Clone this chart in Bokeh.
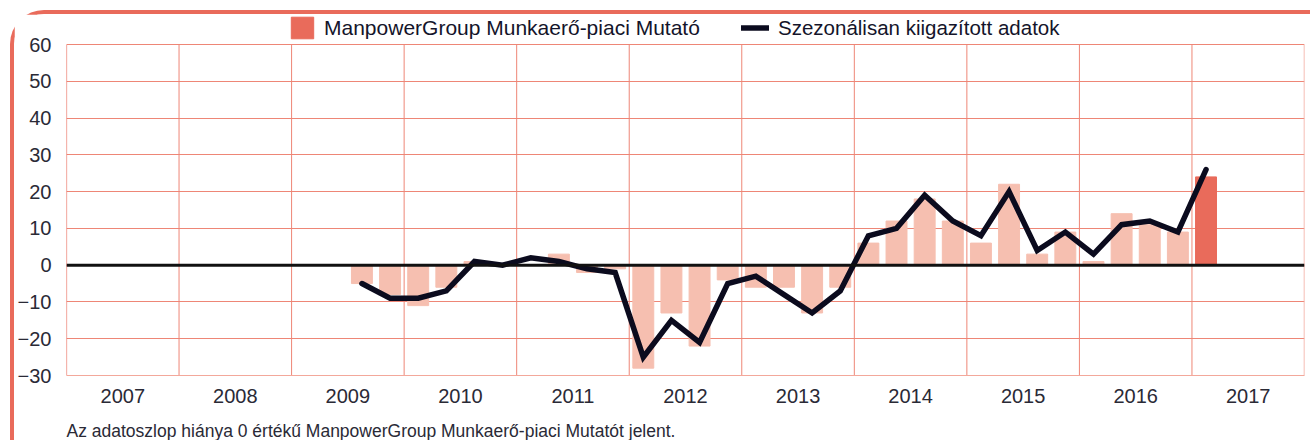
from bokeh.plotting import figure
from bokeh.models import (Range1d, FixedTicker, Span, Legend, LegendItem, Title,
                          ColumnDataSource)
from bokeh.embed import file_html
from bokeh.resources import INLINE

# ---- data -------------------------------------------------------------
periods = ["2009 Q3", "2009 Q4",
           "2010 Q1", "2010 Q2", "2010 Q3", "2010 Q4",
           "2011 Q1", "2011 Q2", "2011 Q3", "2011 Q4",
           "2012 Q1", "2012 Q2", "2012 Q3", "2012 Q4",
           "2013 Q1", "2013 Q2", "2013 Q3", "2013 Q4",
           "2014 Q1", "2014 Q2", "2014 Q3", "2014 Q4",
           "2015 Q1", "2015 Q2", "2015 Q3", "2015 Q4",
           "2016 Q1", "2016 Q2", "2016 Q3", "2016 Q4",
           "2017 Q1"]
outlook = [-5, -8, -11, -6, 1, 0, 0, 3, -2, -1, -28, -13, -22, -4,
           -6, -6, -13, -6, 6, 12, 18, 12, 6, 22, 3, 9, 1, 14, 11, 9, 24]
seasonal = [-5, -9, -9, -7, 1, 0, 2, 1, -1, -2, -25, -15, -21, -5,
            -3, -8, -13, -7, 8, 10, 19, 12, 8, 20, 4, 9, 3, 11, 12, 9, 26]
year_labels = ["2007", "2008", "2009", "2010", "2011", "2012",
               "2013", "2014", "2015", "2016", "2017"]
y_ticks = [-30, -20, -10, 0, 10, 20, 30, 40, 50, 60]

bar_label = "ManpowerGroup Munkaerő-piaci Mutató"
line_label = "Szezonálisan kiigazított adatok"
footnote = "Az adatoszlop hiánya 0 értékű ManpowerGroup Munkaerő-piaci Mutatót jelent."

# ---- styling -----------------------------------------------------------
CORAL = "#E96B5B"
LIGHT = "#F6BFB0"
GRID = "#EE8676"
EDGE = "#F3A89B"
INK = "#0B0B1E"
TXT = "#2A2A36"
FONT = "Liberation Sans"

x = [int(s[:4]) + (int(s[-1]) - 0.5) / 4 for s in periods]
colors = [LIGHT] * (len(outlook) - 1) + [CORAL]
src = ColumnDataSource(dict(x=x, outlook=outlook, seasonal=seasonal, color=colors))

first_year = int(year_labels[0])
last_year = int(year_labels[-1]) + 1
y_lo, y_hi = y_ticks[0], y_ticks[-1]
# frame reaches above the top grid line so the legend can sit inside it
y_top = y_hi + (y_hi - y_lo) * 30.0 / 331.0

p = figure(width=1300, height=430, output_backend="svg", toolbar_location=None,
           x_range=Range1d(first_year, last_year), y_range=Range1d(y_lo, y_top),
           min_border_left=51, min_border_right=10, min_border_top=0,
           min_border_bottom=69)
p.styles = {"border-top": f"4px solid {CORAL}", "border-left": f"4px solid {CORAL}",
            "border-top-left-radius": "34px", "margin-left": "10px", "margin-top": "10px"}
p.background_fill_color = "white"
p.border_fill_color = "white"
p.outline_line_color = None

# year separators (grid) limited to the value range
seps = list(range(first_year + 1, last_year))
p.segment(x0=seps, y0=[y_lo] * len(seps), x1=seps, y1=[y_hi] * len(seps),
          line_color=GRID, line_width=1)
p.segment(x0=[first_year], y0=[y_lo], x1=[first_year], y1=[y_hi],
          line_color=CORAL, line_width=1.2)
p.segment(x0=[last_year], y0=[y_lo], x1=[last_year], y1=[y_hi],
          line_color=EDGE, line_width=1.5)

bars = p.vbar(x="x", top="outlook", bottom=0, width=0.186, color="color", source=src)
p.add_layout(Span(location=0, dimension="width", line_color="#111111", line_width=3))
line = p.line(x="x", y="seasonal", source=src, line_color=INK, line_width=5.5,
              line_join="miter", line_cap="round")

# axes
p.yaxis.ticker = FixedTicker(ticks=y_ticks)
p.xaxis.ticker = FixedTicker(ticks=[int(y) + 0.5 for y in year_labels])
p.xaxis.major_label_overrides = {int(y) + 0.5: y for y in year_labels}
for ax in (p.xaxis[0], p.yaxis[0]):
    ax.major_tick_line_color = None
    ax.minor_tick_line_color = None
    ax.major_label_text_font = FONT
    ax.major_label_text_font_size = "20px"
    ax.major_label_text_color = TXT
p.yaxis.axis_line_color = None
p.xaxis.axis_line_color = EDGE
p.yaxis.major_label_standoff = 9
p.xaxis.major_label_standoff = 7
# blank axis label used only as spacing above the footnote
p.xaxis.axis_label = " "
p.xaxis.axis_label_text_font_size = "8px"
p.xaxis.axis_label_standoff = 0

# grid
p.xgrid.grid_line_color = None
p.ygrid.ticker = FixedTicker(ticks=y_ticks)
p.ygrid.grid_line_color = GRID
p.ygrid.grid_line_width = 1

# legends (two, so each sits where it does in the reference)
common = dict(orientation="horizontal", padding=0, margin=0, border_line_color=None,
              background_fill_alpha=0, label_text_font=FONT,
              label_text_color="#14142A", glyph_height=27, label_height=27,
              glyph_width=28)
leg1 = Legend(items=[LegendItem(label=bar_label, renderers=[bars], index=len(outlook) - 1)],
              location=(222, 334), label_standoff=8, label_text_font_size="21px", **common)
leg2 = Legend(items=[LegendItem(label=line_label, renderers=[line])],
              location=(675, 334), label_standoff=9, label_text_font_size="20.5px", **common)
p.add_layout(leg1, "center")
p.add_layout(leg2, "center")

note = Title(text=footnote, align="left", text_font=FONT, text_font_size="17.5px",
             text_font_style="normal", text_color=TXT, standoff=2)
p.add_layout(note, "below")

open("out.html", "w").write(file_html(p, INLINE))
